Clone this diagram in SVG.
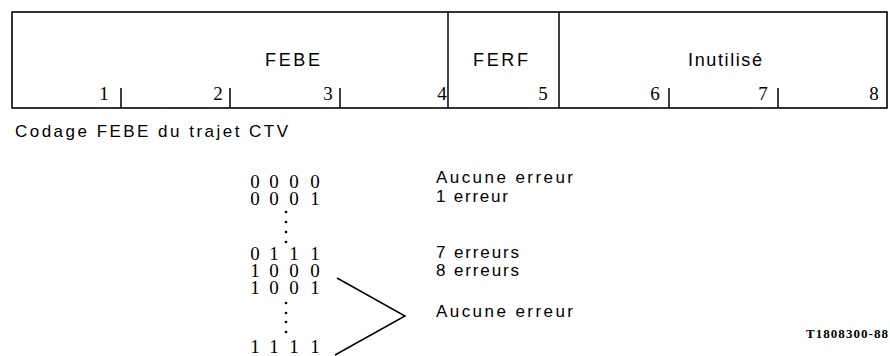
<svg xmlns="http://www.w3.org/2000/svg" width="890" height="356" viewBox="0 0 890 356">
<style>
.frame{fill:none;stroke:#000;stroke-width:1.6}
.ln{stroke:#000;stroke-width:1.5;fill:none}
.lbl{font-family:"Liberation Sans",Arial,sans-serif;font-size:18px;fill:#000}
.txt{font-family:"Liberation Sans",Arial,sans-serif;font-size:17px;fill:#000}
.num{font-family:"Liberation Serif","Times New Roman",serif;font-size:19px;fill:#000;text-anchor:middle}
.bit{font-family:"Liberation Serif","Times New Roman",serif;font-size:19px;fill:#000;text-anchor:middle}
.ref{font-family:"Liberation Serif","Times New Roman",serif;font-size:13px;font-weight:bold;fill:#000}
.dot{fill:#000}
</style>
<rect width="890" height="356" fill="#fff"/>
<g id="frame-table">
<rect class="frame" x="12" y="12" width="875" height="96"/>
<line class="ln" x1="448" y1="12" x2="448" y2="108"/>
<line class="ln" x1="559" y1="12" x2="559" y2="108"/>
<line class="ln" x1="121" y1="88" x2="121" y2="108"/>
<line class="ln" x1="230" y1="88" x2="230" y2="108"/>
<line class="ln" x1="340" y1="88" x2="340" y2="108"/>
<line class="ln" x1="669" y1="88" x2="669" y2="108"/>
<line class="ln" x1="778" y1="88" x2="778" y2="108"/>
</g>
<g id="field-febe">
<text class="lbl" x="265" y="66" textLength="55" lengthAdjust="spacing">FEBE</text>
</g>
<g id="field-ferf">
<text class="lbl" x="473" y="66" textLength="55" lengthAdjust="spacing">FERF</text>
</g>
<g id="field-inutilise">
<text class="lbl" x="688" y="66" textLength="74" lengthAdjust="spacing">Inutilisé</text>
</g>
<g id="bit-numbers">
<text class="num" x="104" y="100">1</text>
<text class="num" x="218" y="100">2</text>
<text class="num" x="328" y="100">3</text>
<text class="num" x="442" y="100">4</text>
<text class="num" x="543" y="100">5</text>
<text class="num" x="655" y="100">6</text>
<text class="num" x="763" y="100">7</text>
<text class="num" x="874" y="100">8</text>
</g>
<g id="caption">
<text class="txt" x="15" y="137" textLength="273" lengthAdjust="spacing">Codage FEBE du trajet CTV</text>
</g>
<g id="codes">
<text class="bit" y="188"><tspan x="255">0</tspan><tspan x="274">0</tspan><tspan x="294">0</tspan><tspan x="315">0</tspan></text>
<text class="bit" y="205"><tspan x="255">0</tspan><tspan x="274">0</tspan><tspan x="294">0</tspan><tspan x="315">1</tspan></text>
<circle class="dot" cx="286" cy="212" r="1.3"/>
<circle class="dot" cx="286" cy="222" r="1.3"/>
<circle class="dot" cx="286" cy="232" r="1.3"/>
<circle class="dot" cx="286" cy="242" r="1.3"/>
<text class="bit" y="260"><tspan x="255">0</tspan><tspan x="274">1</tspan><tspan x="294">1</tspan><tspan x="315">1</tspan></text>
<text class="bit" y="277"><tspan x="255">1</tspan><tspan x="274">0</tspan><tspan x="294">0</tspan><tspan x="315">0</tspan></text>
<text class="bit" y="294"><tspan x="255">1</tspan><tspan x="274">0</tspan><tspan x="294">0</tspan><tspan x="315">1</tspan></text>
<circle class="dot" cx="286" cy="303" r="1.3"/>
<circle class="dot" cx="286" cy="313" r="1.3"/>
<circle class="dot" cx="286" cy="322" r="1.3"/>
<circle class="dot" cx="286" cy="332" r="1.3"/>
<text class="bit" y="353"><tspan x="255">1</tspan><tspan x="274">1</tspan><tspan x="294">1</tspan><tspan x="315">1</tspan></text>
</g>
<g id="meanings">
<text class="txt" x="436" y="183" textLength="137" lengthAdjust="spacing">Aucune erreur</text>
<text class="txt" x="436" y="202" textLength="72" lengthAdjust="spacing">1 erreur</text>
<text class="txt" x="436" y="258" textLength="83" lengthAdjust="spacing">7 erreurs</text>
<text class="txt" x="436" y="276" textLength="83" lengthAdjust="spacing">8 erreurs</text>
<text class="txt" x="436" y="317" textLength="137" lengthAdjust="spacing">Aucune erreur</text>
</g>
<g id="connectors">
<polyline class="ln" points="337,278 405,316 335,355"/>
</g>
<g id="reference">
<text class="ref" x="806" y="338" textLength="82" lengthAdjust="spacing">T1808300-88</text>
</g>
</svg>
